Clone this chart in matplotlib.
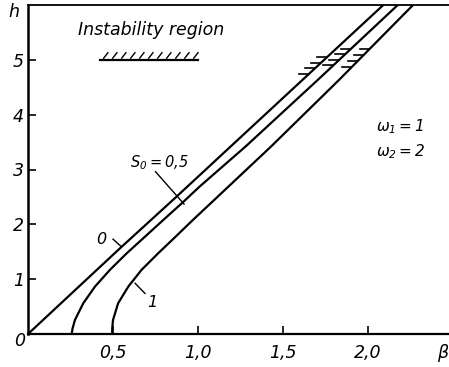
import numpy as np
import matplotlib
matplotlib.use("Agg")
from matplotlib import pyplot as plt

plt.rcParams['font.family'] = ['DejaVu Sans']
plt.rcParams['font.style'] = 'italic'
plt.rcParams['mathtext.default'] = 'it'

# curve S0 = 0 (straight line)
h_s0 = [0.0, 1.56, 2.48, 4.635, 6.0]
beta_s0 = [0.0, 0.54, 0.865, 1.615, 2.09]

# curve S0 = 0.5
h_s05 = [0.0, 0.1, 0.255, 0.56, 0.865, 1.17, 1.47, 1.78, 2.08, 2.385, 2.69, 3.42, 4.635, 6.0]
beta_s05 = [0.257, 0.262, 0.276, 0.325, 0.394, 0.482, 0.58, 0.69, 0.796, 0.905, 1.01, 1.28, 1.705, 2.175]

# curve S0 = 1
h_s1 = [0.0, 0.1, 0.255, 0.56, 0.865, 1.17, 1.47, 1.78, 2.08, 2.385, 3.42, 4.635, 6.0]
beta_s1 = [0.495, 0.4955, 0.50, 0.53, 0.59, 0.668, 0.765, 0.87, 0.97, 1.075, 1.43, 1.83, 2.265]

# short hatch ticks on the curves (instability region)
hatch_s0 = [4.75, 4.85, 4.95, 5.05]
hatch_s05 = [4.9, 5.0, 5.1, 5.2]
hatch_s1 = [4.87, 4.98, 5.09, 5.2]

x_ticks = [0.5, 1.0, 1.5, 2.0]
x_labels = ['0,5', '1,0', '1,5', '2,0']
y_ticks = [1, 2, 3, 4, 5]

fig = plt.figure(figsize=(4.49, 3.67), dpi=100)
ax = fig.add_axes([28 / 449, 33 / 367, 421 / 449, 329 / 367])

lw = 1.6
for bb, hh in [(beta_s0, h_s0), (beta_s05, h_s05), (beta_s1, h_s1)]:
    ax.plot(bb, hh, color='black', lw=lw, solid_capstyle='butt', solid_joinstyle='round')

# hatches on the curves
for bb, hh, marks in [(beta_s0, h_s0, hatch_s0), (beta_s05, h_s05, hatch_s05), (beta_s1, h_s1, hatch_s1)]:
    for m in marks:
        b = np.interp(m, hh, bb)
        ax.plot([b - 0.06, b - 0.005], [m, m], color='black', lw=1.2)

# legend sample: hatched line
ax.plot([0.424, 1.0], [5.0, 5.0], color='black', lw=1.6)
for xs in np.arange(0.445, 1.0, 0.053):
    ax.plot([xs, xs + 0.025], [5.03, 5.13], color='black', lw=1.0)
ax.text(0.294, 5.55, 'Instability region', fontsize=12.5, ha='left', va='center')

# labels of curves
ax.text(0.775, 3.12, r'$S_0 = 0{,}5$', fontsize=10.5, ha='center', va='center')
ax.plot([0.75, 0.918], [2.96, 2.37], color='black', lw=1.0)
ax.text(0.43, 1.73, '0', fontsize=11.5, ha='center', va='center')
ax.plot([0.5, 0.55], [1.73, 1.59], color='black', lw=1.0)
ax.text(0.73, 0.57, '1', fontsize=11.5, ha='center', va='center')
ax.plot([0.63, 0.688], [0.925, 0.74], color='black', lw=1.0)

ax.text(2.19, 3.78, r'$\omega_1 = 1$', fontsize=11, ha='center', va='center')
ax.text(2.19, 3.32, r'$\omega_2 = 2$', fontsize=11, ha='center', va='center')

# axis names and origin
ax.text(-0.085, 5.88, 'h', fontsize=12.5, ha='center', va='center', clip_on=False)
ax.text(2.44, -0.35, r'$\beta$', fontsize=12.5, ha='center', va='center', clip_on=False)
ax.text(-0.05, -0.13, '0', fontsize=12.5, ha='center', va='center', clip_on=False)

ax.set_xlim(0, 421 / 170)
ax.set_ylim(0, 6)
ax.set_xticks(x_ticks)
ax.set_xticklabels(x_labels)
ax.set_yticks(y_ticks)
ax.set_yticklabels([str(v) for v in y_ticks])
ax.tick_params(direction='in', length=6, width=1.2, labelsize=12.5)
ax.tick_params(axis='x', pad=7)
ax.tick_params(axis='y', pad=3)

ax.spines['right'].set_visible(False)
ax.spines['left'].set_linewidth(1.8)
ax.spines['bottom'].set_linewidth(1.6)
ax.spines['top'].set_linewidth(1.3)

fig.savefig('out.png', dpi=100)
